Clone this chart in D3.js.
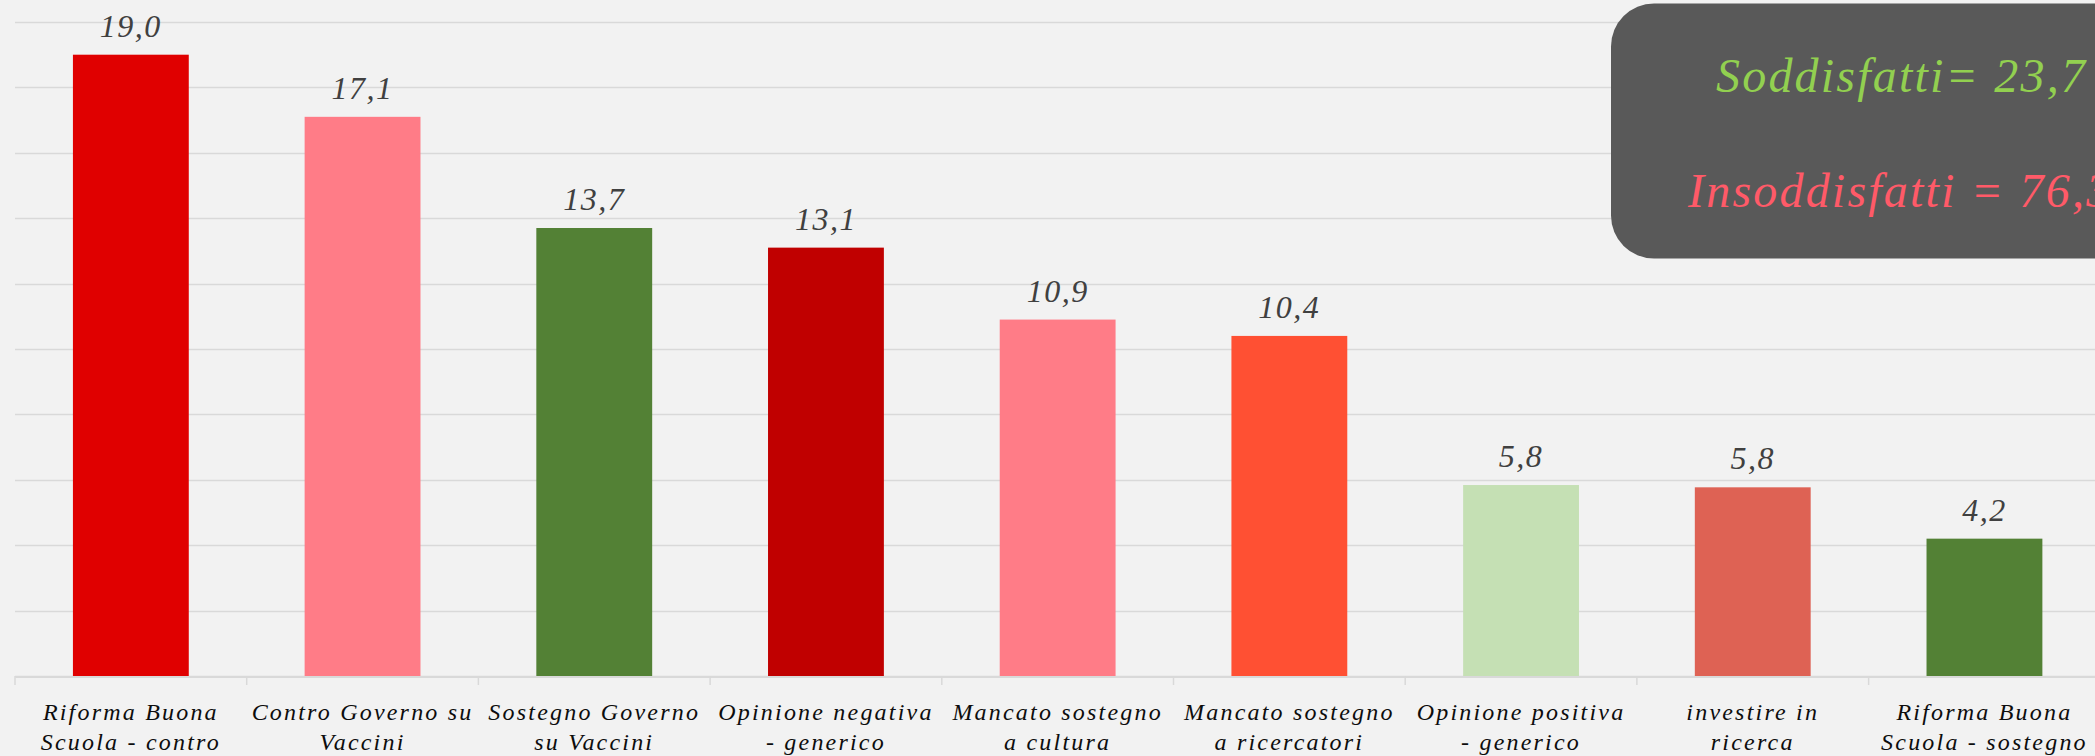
<!DOCTYPE html>
<html>
<head>
<meta charset="utf-8">
<script src="https://cdn.jsdelivr.net/npm/d3@7"></script>
<style>
  html, body { margin: 0; padding: 0; background: #F2F2F2; overflow: hidden; }
  text { font-family: "Liberation Serif", serif; font-style: italic; }
</style>
</head>
<body>
<div id="chart"></div>
<script>
// dati
var categories = [
	["Riforma Buona", "Scuola - contro"],
	["Contro Governo su", "Vaccini"],
	["Sostegno Governo", "su Vaccini"],
	["Opinione negativa", "- generico"],
	["Mancato sostegno", "a cultura"],
	["Mancato sostegno", "a ricercatori"],
	["Opinione positiva", "- generico"],
	["investire in", "ricerca"],
	["Riforma Buona", "Scuola - sostegno"]
];
var values = [19.0, 17.1, 13.7, 13.1, 10.9, 10.4, 5.84, 5.77, 4.2];
var barColors = ["#E00000", "#FF7C87", "#538135", "#C00000", "#FF7C87", "#FF5033", "#C5E0B4", "#DE6254", "#538135"];
var yTicks = [0, 2, 4, 6, 8, 10, 12, 14, 16, 18, 20];
var summary = [
	{ text: "Soddisfatti= 23,7", color: "#92D050" },
	{ text: "Insoddisfatti = 76,3", color: "#FF5A68" }
];

var width = 2095, height = 756;

var svg = d3.select("#chart")
	.append("svg")
	.attr("width", width)
	.attr("height", height);

svg.append("rect")
	.attr("width", width)
	.attr("height", height)
	.attr("fill", "#F2F2F2");

var xScale = d3.scaleBand()
	.domain(d3.range(categories.length))
	.range([15, 15 + 231.7 * categories.length])
	.paddingInner(0.5)
	.paddingOuter(0.25);

var yScale = d3.scaleLinear()
	.domain([0, 20])
	.range([676, 22]);

// griglia
svg.append("g")
	.selectAll("line")
	.data(yTicks)
	.enter()
	.append("line")
	.attr("x1", 15)
	.attr("x2", width)
	.attr("y1", function(d){ return Math.round(yScale(d)) + 0.5; })
	.attr("y2", function(d){ return Math.round(yScale(d)) + 0.5; })
	.attr("stroke", "#D9D9D9")
	.attr("stroke-width", 1.5);

// barre
svg.append("g")
	.selectAll("rect")
	.data(values)
	.enter()
	.append("rect")
	.attr("x", function(d, i){ return xScale(i); })
	.attr("width", xScale.bandwidth())
	.attr("y", function(d){ return yScale(d); })
	.attr("height", function(d){ return yScale(0) - yScale(d); })
	.attr("fill", function(d, i){ return barColors[i]; });

// asse x
var xAxis = d3.axisBottom(xScale).tickSize(0).tickFormat("");
var axisG = svg.append("g")
	.attr("transform", "translate(0," + (yScale(0) + 0.5) + ")")
	.call(xAxis);
axisG.select(".domain").attr("stroke", "#D9D9D9").attr("stroke-width", 2);

var step = xScale.step();
svg.append("g")
	.selectAll("line")
	.data(d3.range(categories.length + 1))
	.enter()
	.append("line")
	.attr("x1", function(i){ return 15 + i * step; })
	.attr("x2", function(i){ return 15 + i * step; })
	.attr("y1", yScale(0))
	.attr("y2", yScale(0) + 9)
	.attr("stroke", "#D9D9D9")
	.attr("stroke-width", 1.5);

// etichette categorie
var catLabels = svg.append("g")
	.selectAll("text")
	.data(categories)
	.enter()
	.append("text")
	.attr("text-anchor", "middle")
	.attr("font-size", 24)
	.attr("letter-spacing", 2.2)
	.attr("fill", "#0D0D0D");
catLabels.selectAll("tspan")
	.data(function(d, i){ return d.map(function(t){ return { t: t, i: i }; }); })
	.enter()
	.append("tspan")
	.attr("x", function(d){ return xScale(d.i) + xScale.bandwidth() / 2; })
	.attr("y", function(d, j){ return 720 + j * 30; })
	.text(function(d){ return d.t; });

// valori
svg.append("g")
	.selectAll("text")
	.data(values)
	.enter()
	.append("text")
	.attr("x", function(d, i){ return xScale(i) + xScale.bandwidth() / 2; })
	.attr("y", function(d){ return yScale(d) - 18; })
	.attr("text-anchor", "middle")
	.attr("font-size", 32)
	.attr("letter-spacing", 1.5)
	.attr("fill", "#404040")
	.text(function(d){ return d.toFixed(1).replace(".", ","); });

// riquadro riassuntivo
svg.append("rect")
	.attr("x", 1611)
	.attr("y", 3.5)
	.attr("width", 600)
	.attr("height", 255)
	.attr("rx", 43)
	.attr("fill", "#595959");

svg.append("g")
	.selectAll("text")
	.data(summary)
	.enter()
	.append("text")
	.attr("x", function(d, i){ return i === 0 ? 1716 : 1688; })
	.attr("y", function(d, i){ return i === 0 ? 92 : 207; })
	.attr("font-size", 48)
	.attr("letter-spacing", 2.2)
	.attr("fill", function(d){ return d.color; })
	.text(function(d){ return d.text; });
</script>
</body>
</html>
